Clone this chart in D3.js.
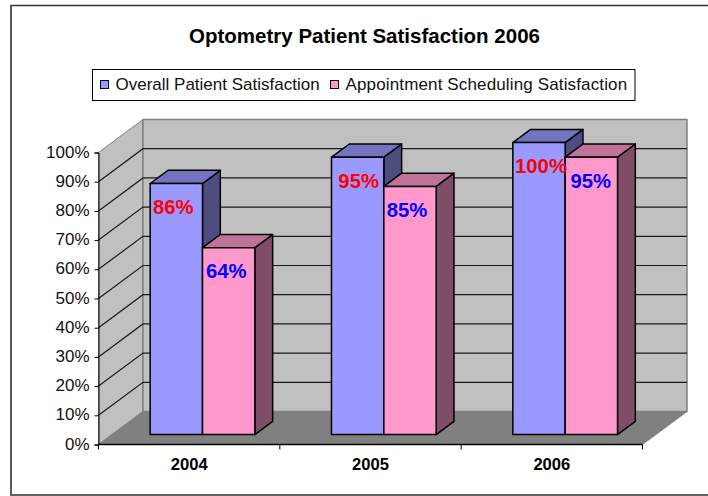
<!DOCTYPE html>
<html>
<head>
<meta charset="utf-8">
<script src="https://cdn.jsdelivr.net/npm/d3@7"></script>
<style>
  html, body { margin: 0; padding: 0; background: #fff; overflow: hidden; }
  svg { display: block; font-family: "Liberation Sans", Arial, sans-serif; }
</style>
</head>
<body>
<div id="chart"></div>
<script>
const years = ["2004", "2005", "2006"];
const seriesNames = ["Overall Patient Satisfaction", "Appointment Scheduling Satisfaction"];
const overall = [86, 95, 100];
const scheduling = [64, 85, 95];
const yTicks = [0, 10, 20, 30, 40, 50, 60, 70, 80, 90, 100];
const seriesValues = [overall, scheduling];

const seriesColors = [
  { front: "#9999ff", top: "#7373bf", side: "#4d4d80", label: "#ff0000" },
  { front: "#ff99cc", top: "#bf7399", side: "#804d66", label: "#0000ff" }
];

const width = 708, height = 496;
const depthX = 44.5, depthY = 33; // oblique offset of the back wall

const x = d3.scaleBand().domain(years).range([98.5, 642.5]);
const y = d3.scaleLinear().domain([0, 100]).range([444.5, 152.5]);
const barScale = d3.scaleBand().domain([0, 1]).range([38.3, 143]);

// projects a front-plane point back to depth z (0 front, 1 back wall)
const px = (xPos, z) => xPos + z * depthX;
const py = (yPos, z) => yPos - z * depthY;
const pts = (list) => list.map((p) => `${p[0]},${p[1]}`).join(" ");

const svg = d3.select("#chart").append("svg")
  .attr("width", width)
  .attr("height", height);

// Chart frame, the right edge is cropped off in the reference
svg.append("polyline")
  .attr("points", pts([[width + 2, 5.5], [11, 5.5], [11, 495], [width + 2, 495]]))
  .attr("fill", "none").attr("stroke", "#333").attr("stroke-width", 1.6);

svg.append("text")
  .attr("x", 364.5).attr("y", 43)
  .attr("text-anchor", "middle")
  .attr("font-size", 20.5).attr("font-weight", "bold")
  .attr("fill", "#000")
  .text("Optometry Patient Satisfaction 2006");

// Legend
const legend = svg.append("g");
legend.append("rect")
  .attr("x", 92.5).attr("y", 69.5)
  .attr("width", 542.5).attr("height", 31)
  .attr("fill", "#fff").attr("stroke", "#000");
[[100.5, 115.5, 0], [330.5, 345.5, 0.14]].forEach((pos, i) => {
  legend.append("rect")
    .attr("x", pos[0]).attr("y", 80.5)
    .attr("width", 8).attr("height", 8)
    .attr("fill", seriesColors[i].front).attr("stroke", "#000");
  legend.append("text")
    .attr("x", pos[1]).attr("y", 89.5)
    .attr("font-size", 17).attr("fill", "#111")
    .attr("letter-spacing", pos[2])
    .text(seriesNames[i]);
});

const xLeft = x.range()[0], xRight = x.range()[1];
const y0 = y(0), y100 = y(100);

// Walls and floor
svg.append("polygon")
  .attr("points", pts([[px(xLeft, 0), y100], [px(xLeft, 1), py(y100, 1)], [px(xLeft, 1), py(y0, 1)], [px(xLeft, 0), y0]]))
  .attr("fill", "#c0c0c0").attr("stroke", "#808080");
svg.append("polygon")
  .attr("points", pts([[px(xLeft, 1), py(y100, 1)], [px(xRight, 1), py(y100, 1)], [px(xRight, 1), py(y0, 1)], [px(xLeft, 1), py(y0, 1)]]))
  .attr("fill", "#c0c0c0").attr("stroke", "#808080").attr("stroke-width", 1.5);
svg.append("polygon")
  .attr("points", pts([[px(xLeft, 0), y0], [px(xLeft, 1), py(y0, 1)], [px(xRight, 1), py(y0, 1)], [px(xRight, 0), y0]]))
  .attr("fill", "#808080").attr("stroke", "#808080");

// Gridlines on the side and back wall
yTicks.filter((t) => t > 0 && t < 100).forEach((t) => {
  svg.append("polyline")
    .attr("points", pts([[px(xLeft, 0), y(t)], [px(xLeft, 1), py(y(t), 1)], [px(xRight, 1), py(y(t), 1)]]))
    .attr("fill", "none").attr("stroke", "#1a1a1a").attr("stroke-width", 1.2);
});

// Axes
const yAxis = d3.axisLeft(y).tickValues(yTicks).tickFormat((d) => `${d}%`).tickSize(4).tickPadding(5);
const yG = svg.append("g").attr("transform", `translate(${xLeft},0)`).call(yAxis);
yG.selectAll("text").attr("font-size", 17).attr("dy", "0.27em").attr("fill", "#111").attr("font-family", "Liberation Sans");
yG.selectAll("line").attr("stroke", "#000");
yG.select(".domain").attr("stroke", "#000");

const xAxis = d3.axisBottom(x).tickSize(0).tickPadding(14);
const xG = svg.append("g").attr("transform", `translate(0,${y0})`).call(xAxis);
xG.selectAll("text").attr("font-size", 16.6).attr("font-weight", "bold").attr("fill", "#000").attr("font-family", "Liberation Sans");
xG.select(".domain").remove();
svg.append("line")
  .attr("x1", xLeft).attr("x2", xRight).attr("y1", y0).attr("y2", y0)
  .attr("stroke", "#000").attr("stroke-width", 1.5);
[...years.map((d) => x(d)), xRight].forEach((tx) => {
  svg.append("line")
    .attr("x1", tx).attr("x2", tx).attr("y1", y0).attr("y2", y0 + 5)
    .attr("stroke", "#000");
});

// Bars: front face sits 0.3 back, rear face 0.7 back
const zFront = 0.3, zBack = 0.7;
const bars = [];
years.forEach((year, yi) => {
  seriesValues.forEach((values, si) => {
    bars.push({ year, si, value: values[yi] });
  });
});

bars.forEach((d) => {
  const c = seriesColors[d.si];
  const left = x(d.year) + barScale(d.si);
  const right = left + barScale.bandwidth();
  const top = y(d.value);
  const g = svg.append("g").attr("stroke", "#000").attr("stroke-width", 1.5).attr("stroke-linejoin", "round");
  g.append("polygon")
    .attr("points", pts([[px(right, zFront), py(top, zFront)], [px(right, zBack), py(top, zBack)], [px(right, zBack), py(y0, zBack)], [px(right, zFront), py(y0, zFront)]]))
    .attr("fill", c.side);
  g.append("polygon")
    .attr("points", pts([[px(left, zFront), py(top, zFront)], [px(left, zBack), py(top, zBack)], [px(right, zBack), py(top, zBack)], [px(right, zFront), py(top, zFront)]]))
    .attr("fill", c.top);
  g.append("polygon")
    .attr("points", pts([[px(left, zFront), py(top, zFront)], [px(right, zFront), py(top, zFront)], [px(right, zFront), py(y0, zFront)], [px(left, zFront), py(y0, zFront)]]))
    .attr("fill", c.front);
});

// Data labels go on top of all bars, hand placed in the reference so each gets a small nudge
const labelNudge = [-3, -2.5, 1, -3, 2, -0.5];
bars.forEach((d, i) => {
  const left = x(d.year) + barScale(d.si);
  svg.append("text")
    .attr("x", px(left + barScale.bandwidth() / 2, zFront) + labelNudge[i])
    .attr("y", py(y(d.value), zFront) + 30.5)
    .attr("text-anchor", "middle")
    .attr("font-size", 20.3).attr("font-weight", "bold")
    .attr("fill", seriesColors[d.si].label)
    .text(`${d.value}%`);
});
</script>
</body>
</html>
